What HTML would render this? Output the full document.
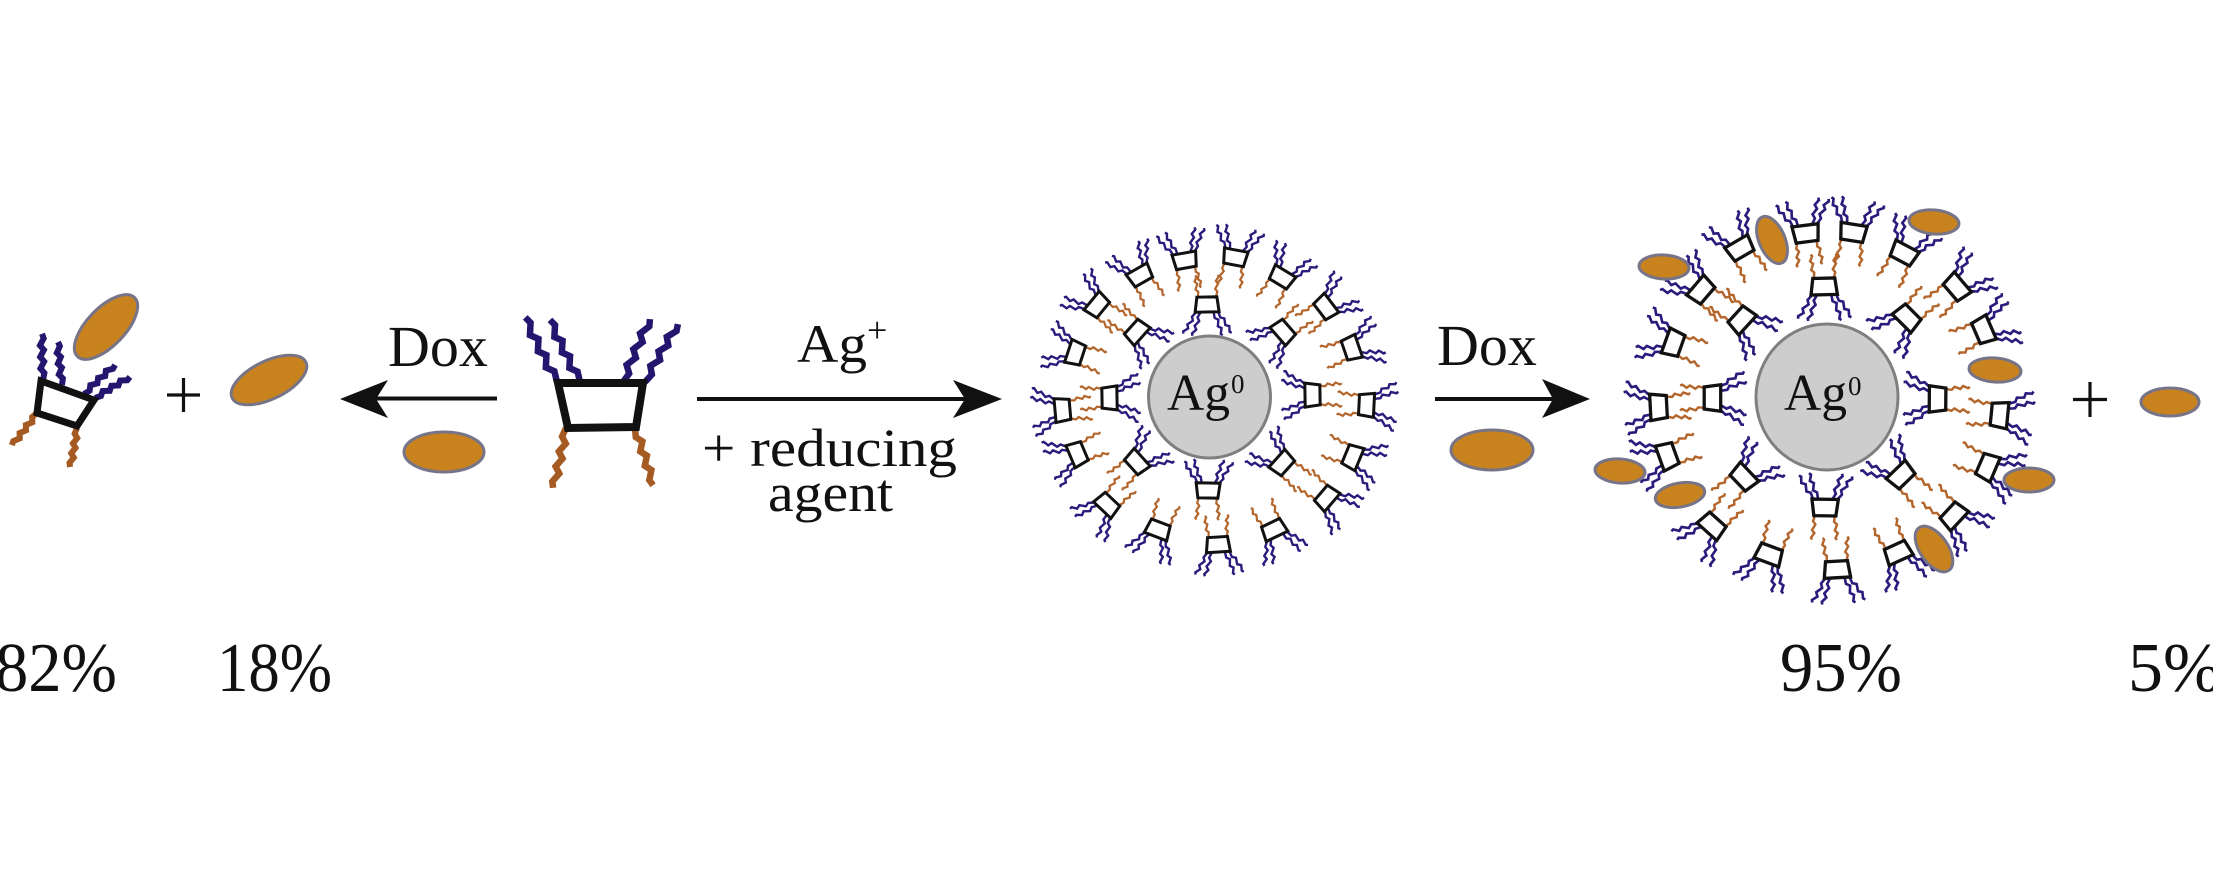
<!DOCTYPE html>
<html>
<head>
<meta charset="utf-8">
<style>
  html,body{margin:0;padding:0;background:#fff;}
  svg{display:block;}
  text{font-family:"Liberation Serif","Times New Roman",serif;fill:#111;}
</style>
</head>
<body>
<svg width="2213" height="886" viewBox="0 0 2213 886" xmlns="http://www.w3.org/2000/svg">
<defs>
  <path id="zs" d="M0,0 L1.2,-6 L-1.6,-9 L1.2,-15 L-1.6,-18 L1.2,-23 L0,-25" fill="none"/>
  <path id="zb" d="M0,0 L2,-9 L-3,-15 L2,-24 L-3,-30 L2,-39 L-3,-45 L2,-54 L0,-60" fill="none" vector-effect="non-scaling-stroke"/>
  <g id="u">
    <g stroke="#2b1b7c" stroke-width="2.4">
      <use href="#zs" transform="translate(-11,-7) rotate(-32)"/>
      <use href="#zs" transform="translate(-6.5,-7) rotate(-20)"/>
      <use href="#zs" transform="translate(6.5,-7) rotate(20)"/>
      <use href="#zs" transform="translate(11,-7) rotate(32)"/>
    </g>
    <g stroke="#b3652b" stroke-width="2.5">
      <use href="#zs" transform="translate(-9,8) rotate(186) scale(0.88)"/>
      <use href="#zs" transform="translate(9,8) rotate(174) scale(0.88)"/>
    </g>
    <path d="M-12,-7 L12,-7 L10,8 L-10,8 Z" fill="#fff" stroke="#111" stroke-width="3"/>
  </g>
</defs>

<rect width="2213" height="886" fill="#fff"/>

<!-- ===== Left: tilted amphiphile with Dox ===== -->
<g stroke="#24166e" stroke-width="6">
  <use href="#zb" transform="translate(43,380) rotate(-1.2) scale(0.77)"/>
  <use href="#zb" transform="translate(62,385) rotate(-5.3) scale(0.72)"/>
  <use href="#zb" transform="translate(84,394) rotate(46.9) scale(0.71)"/>
  <use href="#zb" transform="translate(95,398) rotate(59) scale(0.68)"/>
</g>
<g stroke="#a55a22" stroke-width="6">
  <use href="#zb" transform="translate(37,413) rotate(218) scale(0.68)"/>
  <use href="#zb" transform="translate(77,428) rotate(190) scale(0.66)"/>
</g>
<polygon points="41,381 94,400 77,426 37,413" fill="#fff" stroke="#111" stroke-width="7"/>
<ellipse cx="106" cy="327" rx="41" ry="19" transform="rotate(-46 106 327)" fill="#c8821e" stroke="#777488" stroke-width="3"/>

<!-- plus -->
<g stroke="#111" stroke-width="3.2">
  <line x1="167" y1="395" x2="200" y2="395"/>
  <line x1="183.5" y1="378" x2="183.5" y2="412"/>
</g>
<ellipse cx="269" cy="380" rx="41" ry="19" transform="rotate(-26 269 380)" fill="#c8821e" stroke="#777488" stroke-width="3"/>

<!-- left arrow -->
<line x1="370" y1="398.5" x2="497" y2="398.5" stroke="#111" stroke-width="4"/>
<polygon points="340,399 388,380 376,399 388,418" fill="#111"/>
<text x="388" y="366" font-size="58">Dox</text>
<ellipse cx="444" cy="452" rx="40" ry="20" fill="#c8821e" stroke="#777488" stroke-width="3"/>

<!-- ===== Upright amphiphile ===== -->
<g stroke="#24166e" stroke-width="6.5">
  <use href="#zb" transform="translate(557,382) rotate(-26.2) scale(1.2)"/>
  <use href="#zb" transform="translate(580,382) rotate(-25.8) scale(1.15)"/>
  <use href="#zb" transform="translate(623,382) rotate(23.2) scale(1.14)"/>
  <use href="#zb" transform="translate(645,382) rotate(29.6) scale(1.11)"/>
</g>
<g stroke="#a55a22" stroke-width="6.5">
  <use href="#zb" transform="translate(566,428) rotate(192.2) scale(1.02)"/>
  <use href="#zb" transform="translate(635,428) rotate(162.5) scale(1.0)"/>
</g>
<polygon points="558,383 643,383 636,427 568,428" fill="#fff" stroke="#111" stroke-width="8"/>

<!-- center arrow -->
<line x1="697" y1="399" x2="970" y2="399" stroke="#111" stroke-width="4"/>
<polygon points="1002,399 953,380 965,399 953,418" fill="#111"/>
<text x="797" y="362" font-size="54" textLength="70" lengthAdjust="spacingAndGlyphs">Ag</text>
<text x="867" y="342" font-size="36">+</text>
<text x="702" y="466" font-size="54" textLength="255" lengthAdjust="spacingAndGlyphs">+ reducing</text>
<text x="768" y="511" font-size="54" textLength="125" lengthAdjust="spacingAndGlyphs">agent</text>

<!-- ===== Nanoparticle 1 ===== -->
<g>
  <use href="#u" transform="translate(1185,260) rotate(-10)"/>
  <use href="#u" transform="translate(1235,257) rotate(10.6)"/>
  <use href="#u" transform="translate(1282,277) rotate(31.3)"/>
  <use href="#u" transform="translate(1326,307) rotate(52.7)"/>
  <use href="#u" transform="translate(1352,348) rotate(71)"/>
  <use href="#u" transform="translate(1367,405) rotate(92.9)"/>
  <use href="#u" transform="translate(1353,457) rotate(112.6)"/>
  <use href="#u" transform="translate(1327,498) rotate(130.6)"/>
  <use href="#u" transform="translate(1274,530) rotate(154.3)"/>
  <use href="#u" transform="translate(1218,545) rotate(176.5)"/>
  <use href="#u" transform="translate(1158,530) rotate(201)"/>
  <use href="#u" transform="translate(1107,505) rotate(223.4)"/>
  <use href="#u" transform="translate(1077,454) rotate(247)"/>
  <use href="#u" transform="translate(1062,410) rotate(265)"/>
  <use href="#u" transform="translate(1075,353) rotate(-71.8)"/>
  <use href="#u" transform="translate(1097,305) rotate(-50.6)"/>
  <use href="#u" transform="translate(1140,275) rotate(-29.5)"/>

  <use href="#u" transform="translate(1207,305) rotate(179)"/>
  <use href="#u" transform="translate(1283,332) rotate(-131)"/>
  <use href="#u" transform="translate(1312,395) rotate(-91)"/>
  <use href="#u" transform="translate(1282,463) rotate(-48)"/>
  <use href="#u" transform="translate(1208,490) rotate(1)"/>
  <use href="#u" transform="translate(1137,462) rotate(48)"/>
  <use href="#u" transform="translate(1110,398) rotate(89)"/>
  <use href="#u" transform="translate(1137,332) rotate(132)"/>
</g>
<circle cx="1209.5" cy="397" r="61" fill="#cdcdcd" stroke="#7f7f7f" stroke-width="3"/>
<text x="1167" y="410" font-size="52" textLength="63" lengthAdjust="spacingAndGlyphs">Ag</text>
<text x="1231" y="393" font-size="27">0</text>

<!-- right arrow -->
<line x1="1435" y1="399" x2="1560" y2="399" stroke="#111" stroke-width="4"/>
<polygon points="1590,399 1542,379 1553,399 1542,418" fill="#111"/>
<text x="1437" y="365" font-size="58">Dox</text>
<ellipse cx="1492" cy="450" rx="41" ry="20" fill="#c8821e" stroke="#777488" stroke-width="3"/>

<!-- ===== Nanoparticle 2 ===== -->
<g>
  <use href="#u" transform="translate(1806,233) rotate(-7.3) scale(1.1)"/>
  <use href="#u" transform="translate(1853,232) rotate(8.9) scale(1.1)"/>
  <use href="#u" transform="translate(1904,253) rotate(28) scale(1.1)"/>
  <use href="#u" transform="translate(1957,287) rotate(49.5) scale(1.1)"/>
  <use href="#u" transform="translate(1984,330) rotate(66.6) scale(1.1)"/>
  <use href="#u" transform="translate(2000,415) rotate(95.6) scale(1.1)"/>
  <use href="#u" transform="translate(1988,467) rotate(113.2) scale(1.1)"/>
  <use href="#u" transform="translate(1954,516) rotate(132.9) scale(1.1)"/>
  <use href="#u" transform="translate(1898,553) rotate(155.4) scale(1.1)"/>
  <use href="#u" transform="translate(1837,570) rotate(176.7) scale(1.1)"/>
  <use href="#u" transform="translate(1769,555) rotate(200.3) scale(1.1)"/>
  <use href="#u" transform="translate(1712,526) rotate(221.9) scale(1.1)"/>
  <use href="#u" transform="translate(1667,456) rotate(250.1) scale(1.1)"/>
  <use href="#u" transform="translate(1658,407) rotate(267) scale(1.1)"/>
  <use href="#u" transform="translate(1673,343) rotate(-70.3) scale(1.1)"/>
  <use href="#u" transform="translate(1701,290) rotate(-49.4) scale(1.1)"/>
  <use href="#u" transform="translate(1740,248) rotate(-30.1) scale(1.1)"/>

  <use href="#u" transform="translate(1824,287) rotate(178.5) scale(1.1)"/>
  <use href="#u" transform="translate(1907,318) rotate(-135) scale(1.1)"/>
  <use href="#u" transform="translate(1937,399) rotate(-89.5) scale(1.1)"/>
  <use href="#u" transform="translate(1901,475) rotate(-43.9) scale(1.1)"/>
  <use href="#u" transform="translate(1825,507) rotate(1) scale(1.1)"/>
  <use href="#u" transform="translate(1744,477) rotate(46.4) scale(1.1)"/>
  <use href="#u" transform="translate(1713,398) rotate(90) scale(1.1)"/>
  <use href="#u" transform="translate(1742,320) rotate(132.5) scale(1.1)"/>
</g>
<ellipse cx="1827" cy="397" rx="71" ry="73" fill="#cdcdcd" stroke="#7f7f7f" stroke-width="3"/>
<text x="1784" y="410" font-size="52" textLength="63" lengthAdjust="spacingAndGlyphs">Ag</text>
<text x="1848" y="395" font-size="27">0</text>

<!-- Dox bound to NP2 -->
<g fill="#c8821e" stroke="#777488" stroke-width="3">
  <ellipse cx="1772" cy="240" rx="25" ry="13" transform="rotate(67 1772 240)"/>
  <ellipse cx="1934" cy="222" rx="25" ry="12" transform="rotate(5 1934 222)"/>
  <ellipse cx="1664" cy="267" rx="25" ry="12" transform="rotate(3 1664 267)"/>
  <ellipse cx="1995" cy="370" rx="26" ry="12" transform="rotate(4 1995 370)"/>
  <ellipse cx="2029" cy="480" rx="25" ry="12"/>
  <ellipse cx="1934" cy="549" rx="26" ry="14" transform="rotate(55 1934 549)"/>
  <ellipse cx="1620" cy="471" rx="25" ry="12" transform="rotate(4 1620 471)"/>
  <ellipse cx="1680" cy="495" rx="25" ry="12" transform="rotate(-10 1680 495)"/>
</g>

<!-- plus + free Dox -->
<g stroke="#111" stroke-width="3.2">
  <line x1="2073" y1="399.5" x2="2107" y2="399.5"/>
  <line x1="2090" y1="382" x2="2090" y2="417"/>
</g>
<ellipse cx="2170" cy="402" rx="29" ry="14" fill="#c8821e" stroke="#777488" stroke-width="3"/>

<!-- percentages -->
<text x="-5" y="691" font-size="70" textLength="122" lengthAdjust="spacingAndGlyphs">82%</text>
<text x="217" y="691" font-size="70" textLength="115" lengthAdjust="spacingAndGlyphs">18%</text>
<text x="1780" y="691" font-size="70" textLength="122" lengthAdjust="spacingAndGlyphs">95%</text>
<text x="2128" y="691" font-size="70">5%</text>
</svg>
</body>
</html>
